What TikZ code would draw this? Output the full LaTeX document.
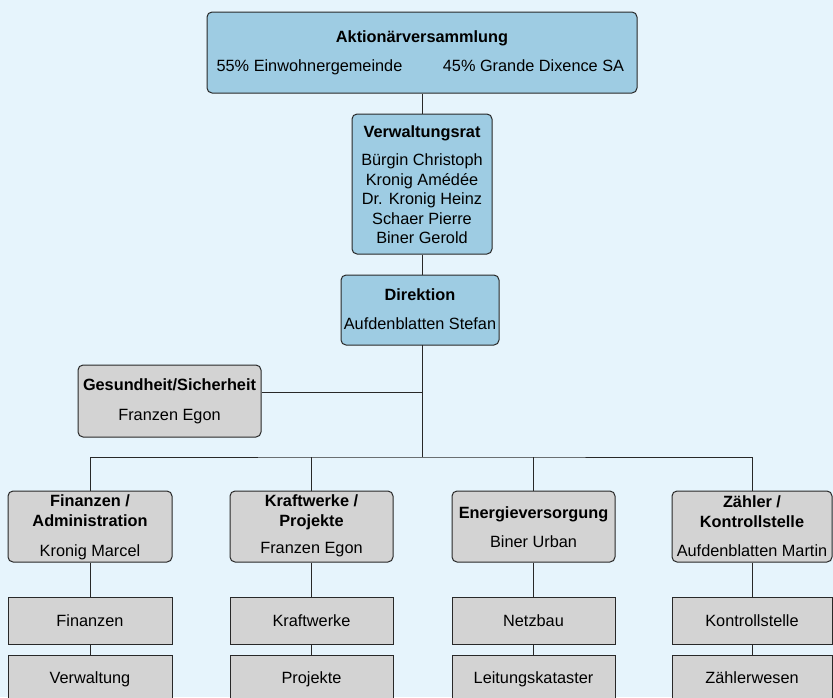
\documentclass[tikz,border=0pt]{standalone}
\usepackage{fontspec}
\setmainfont{Liberation Sans}
\definecolor{bgc}{RGB}{230,244,252}
\definecolor{bluebox}{RGB}{158,204,227}
\definecolor{graybox}{RGB}{211,211,211}
\definecolor{linec}{RGB}{40,40,40}
\begin{document}
\begin{tikzpicture}[x=1pt,y=-1pt,
  every node/.style={font=\fontsize{16.3}{19.5}\selectfont, text=black},
  boxbase/.style={draw=linec, line width=1pt, inner sep=0pt, minimum width=#1},
  bluebx/.style={boxbase=#1, fill=bluebox, rounded corners=5pt},
  graybx/.style={boxbase=#1, fill=graybox, rounded corners=5pt},
  subbx/.style={boxbase=#1, fill=graybox},
  txt/.style={anchor=base, inner sep=0pt},
  ttl/.style={anchor=base, inner sep=0pt, font=\fontsize{16.3}{19.5}\selectfont\bfseries},
  conn/.style={draw=linec, line width=1pt}]
\useasboundingbox (0,0) rectangle (833,697);
\clip (0,0) rectangle (833,697);
\fill[bgc] (0,0) rectangle (833,697);

% boxes
\node[bluebx=430pt, minimum height=81pt] (top) at (422,52.5) {};
\node[bluebx=140pt, minimum height=140pt] (vr) at (422,184) {};
\node[bluebx=158pt, minimum height=70pt] (dir) at (420,310) {};
\node[graybx=183pt, minimum height=72pt] (ges) at (169.5,401) {};

\node[graybx=164pt, minimum height=71pt] (m1) at (90,526.5) {};
\node[graybx=163pt, minimum height=71pt] (m2) at (311.5,526.5) {};
\node[graybx=163pt, minimum height=71pt] (m3) at (533.5,526.5) {};
\node[graybx=160pt, minimum height=71pt] (m4) at (752,526.5) {};

\node[subbx=164pt, minimum height=47pt] (a1) at (90,620.5) {};
\node[subbx=163pt, minimum height=47pt] (a2) at (311.5,620.5) {};
\node[subbx=163pt, minimum height=47pt] (a3) at (533.5,620.5) {};
\node[subbx=160pt, minimum height=47pt] (a4) at (752,620.5) {};

\node[subbx=164pt, minimum height=55pt] (b1) at (90,682.5) {};
\node[subbx=163pt, minimum height=55pt] (b2) at (311.5,682.5) {};
\node[subbx=163pt, minimum height=55pt] (b3) at (533.5,682.5) {};
\node[subbx=160pt, minimum height=55pt] (b4) at (752,682.5) {};

% texts
\node[ttl] (topt) at (422,42.7) {Aktionärversammlung};
\node[txt] (topa) at (309.5,71.7) {55\% Einwohnergemeinde};
\node[txt] (topb) at (533.5,71.7) {45\% Grande Dixence SA};

\node[ttl] (vrt) at (422,137) {Verwaltungsrat};
\node[txt] (vr1) at (422,165.6) {Bürgin Christoph};
\node[txt] (vr2) at (422,185.1) {Kronig Amédée};
\node[txt] (vr3) at (422,204.6) {Dr. Kronig Heinz};
\node[txt] (vr4) at (422,224.1) {Schaer Pierre};
\node[txt] (vr5) at (422,243.6) {Biner Gerold};

\node[ttl] (dirt) at (420,300) {Direktion};
\node[txt] (dirn) at (420,329) {Aufdenblatten Stefan};

\node[ttl] (gest) at (169.5,390) {Gesundheit/Sicherheit};
\node[txt] (gesn) at (169.5,420.5) {Franzen Egon};

\node[ttl] (m1t1) at (90,506) {Finanzen /};
\node[ttl] (m1t2) at (90,526) {Administration};
\node[txt] (m1n) at (90,556) {Kronig Marcel};

\node[ttl] (m2t1) at (311.5,506) {Kraftwerke /};
\node[ttl] (m2t2) at (311.5,526) {Projekte};
\node[txt] (m2n) at (311.5,553) {Franzen Egon};

\node[ttl] (m3t) at (533.5,518) {Energieversorgung};
\node[txt] (m3n) at (533.5,547) {Biner Urban};

\node[ttl] (m4t1) at (752,507) {Zähler /};
\node[ttl] (m4t2) at (752,527) {Kontrollstelle};
\node[txt] (m4n) at (752,556) {Aufdenblatten Martin};

\node[txt] (a1t) at (90,626) {Finanzen};
\node[txt] (a2t) at (311.5,626) {Kraftwerke};
\node[txt] (a3t) at (533.5,626) {Netzbau};
\node[txt] (a4t) at (752,626) {Kontrollstelle};

\node[txt] (b1t) at (90,683) {Verwaltung};
\node[txt] (b2t) at (311.5,683) {Projekte};
\node[txt] (b3t) at (533.5,683) {Leitungskataster};
\node[txt] (b4t) at (752,683) {Zählerwesen};

% connectors
\coordinate (trunk) at (422,345);
\coordinate (busC) at (422,457);
\coordinate (gj) at (422,392);
\draw[conn] (top.south) -- (vr.north);
\draw[conn] (vr.south) -- (vr.south |- dir.north);
\draw[conn] (trunk) -- (busC);
\draw[conn] (gj -| ges.east) -- (gj);
\draw[conn] (m1.north) |- (busC) -| (m4.north);
\draw[conn] (m2.north) -- (m2.north |- busC);
\draw[conn] (m3.north) -- (m3.north |- busC);
\foreach \i in {1,2,3,4}{
  \draw[conn] (m\i.south) -- (a\i.north);
  \draw[conn] (a\i.south) -- (b\i.north);
}
\end{tikzpicture}
\end{document}
